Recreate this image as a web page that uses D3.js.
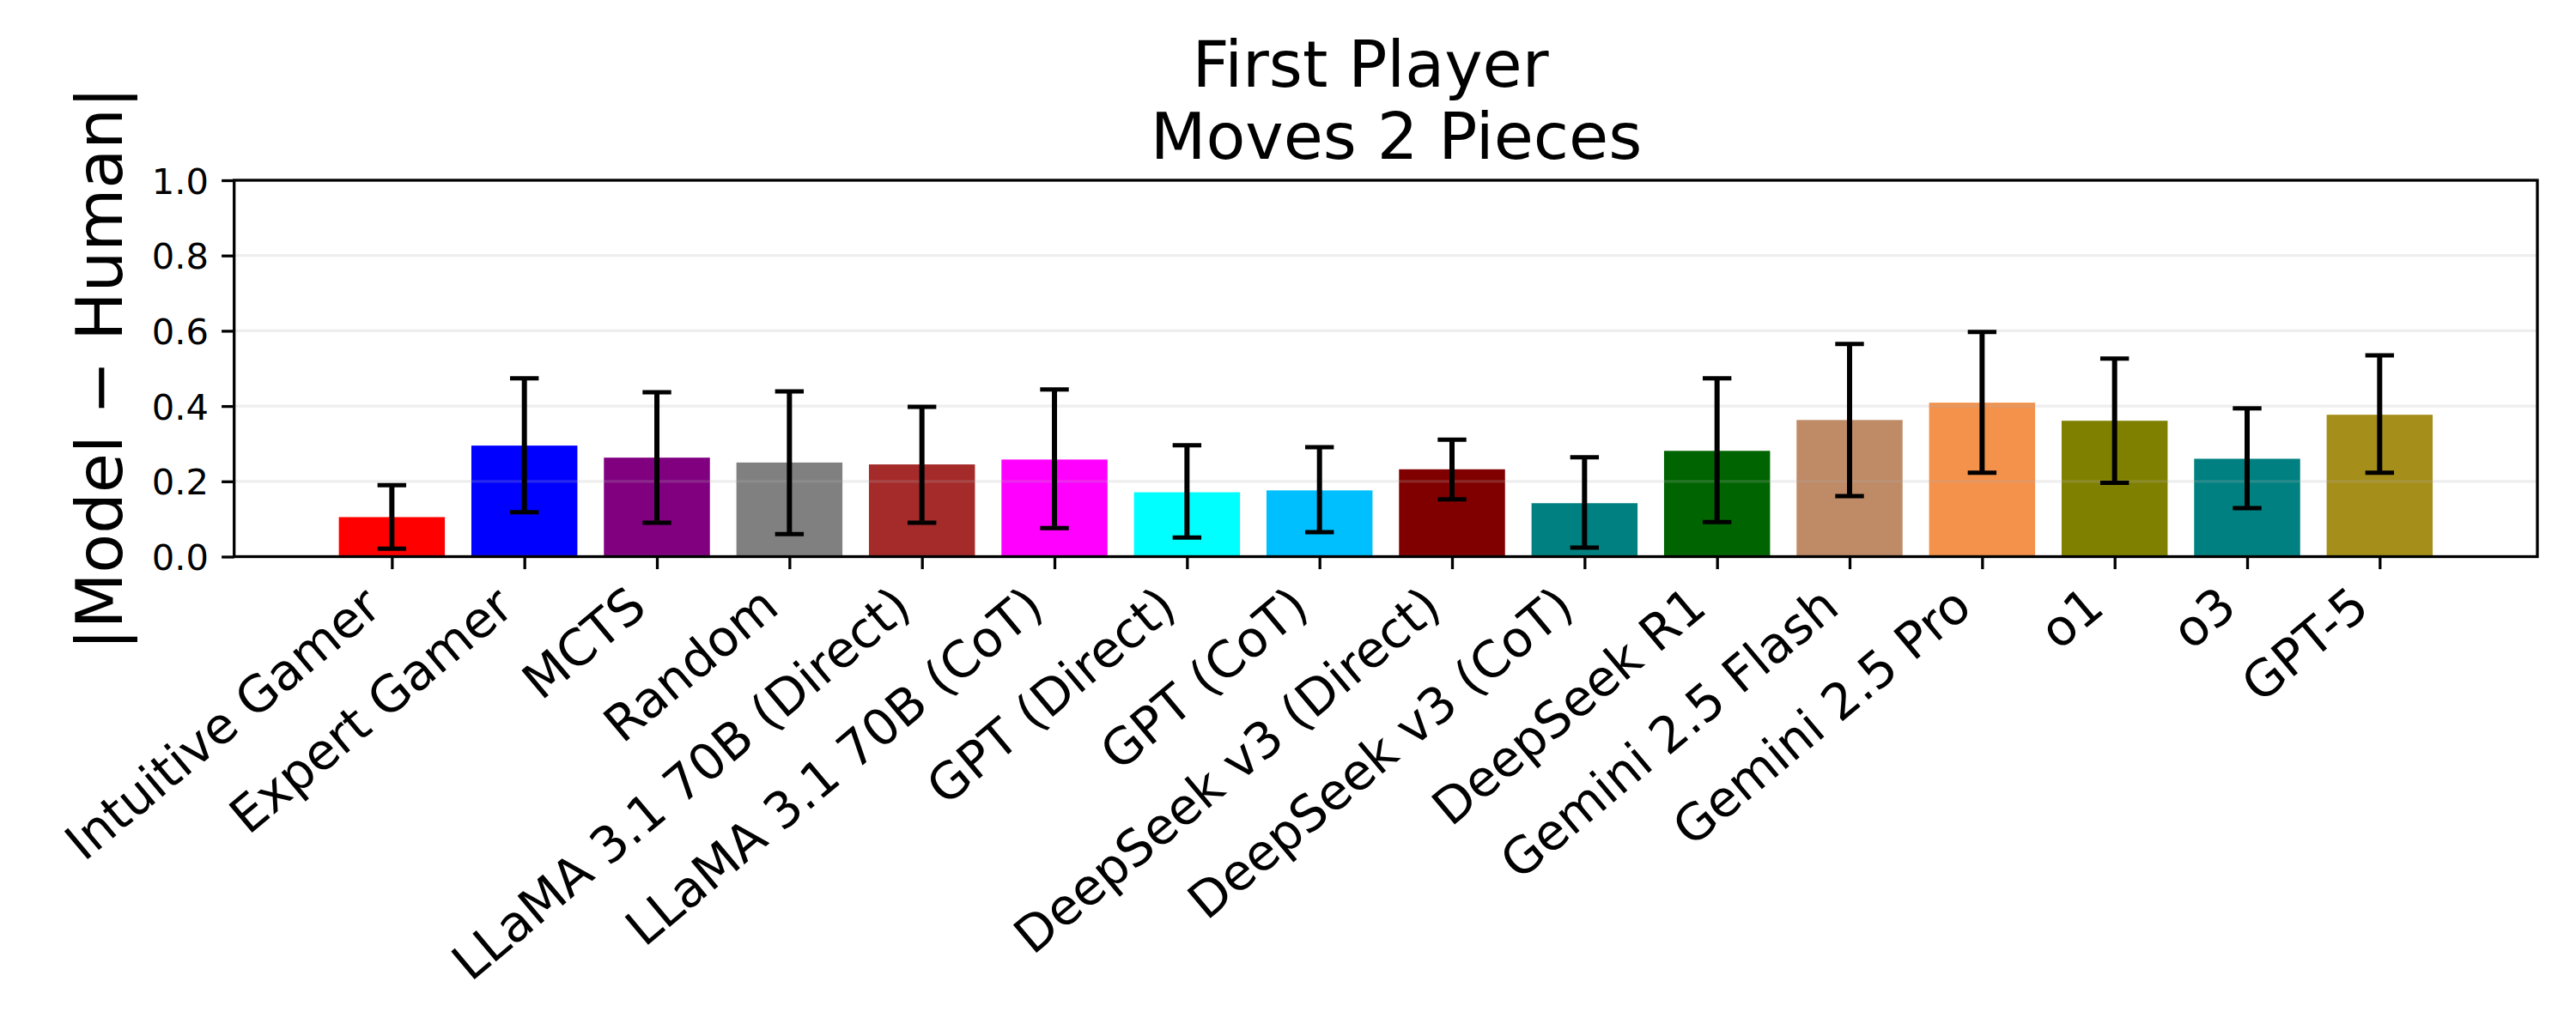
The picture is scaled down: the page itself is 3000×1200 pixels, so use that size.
<!DOCTYPE html>
<html>
<head>
<meta charset="utf-8">
<script src="https://cdn.jsdelivr.net/npm/d3@7"></script>
<style>
  html, body { margin: 0; padding: 0; background: #ffffff; }
  svg { display: block; font-family: "DejaVu Sans", sans-serif; }
</style>
</head>
<body>
<svg id="chart" width="3000" height="1200"></svg>
<script>
// ---------------- data ----------------
const categories = [
  "Intuitive Gamer", "Expert Gamer", "MCTS", "Random",
  "LLaMA 3.1 70B (Direct)", "LLaMA 3.1 70B (CoT)", "GPT (Direct)", "GPT (CoT)",
  "DeepSeek v3 (Direct)", "DeepSeek v3 (CoT)", "DeepSeek R1", "Gemini 2.5 Flash",
  "Gemini 2.5 Pro", "o1", "o3", "GPT-5"
];
const values = [0.105, 0.295, 0.263, 0.250, 0.245, 0.258, 0.171, 0.176,
                0.232, 0.142, 0.281, 0.363, 0.409, 0.361, 0.260, 0.377];
const errLower = [0.021, 0.118, 0.090, 0.060, 0.090, 0.076, 0.051, 0.065,
                  0.152, 0.024, 0.092, 0.161, 0.223, 0.196, 0.129, 0.223];
const errUpper = [0.190, 0.474, 0.437, 0.439, 0.398, 0.444, 0.296, 0.291,
                  0.311, 0.264, 0.474, 0.565, 0.597, 0.526, 0.394, 0.535];
const colors = ["#ff0000", "#0000ff", "#800080", "#808080",
                "#a52a2a", "#ff00ff", "#00ffff", "#00bfff",
                "#800000", "#008080", "#006400", "#bf8a66",
                "#f4914b", "#808000", "#008080", "#a68e1a"];
const yTicks = [0.0, 0.2, 0.4, 0.6, 0.8, 1.0];
const titleLines = ["First Player", "Moves 2 Pieces"];
const yLabel = "|Model \u2212 Human|";

// ---------------- layout ----------------
const L = 272.7, R = 2955, T = 210, B = 648.5;
const svg = d3.select("#chart");
svg.append("rect").attr("width", 3000).attr("height", 1200).attr("fill", "#ffffff");

const x = d3.scaleLinear().domain([-1.19, categories.length - 1 + 1.19]).range([L, R]);
const y = d3.scaleLinear().domain([0, 1]).range([B, T]);
const barW = x(0.8) - x(0);

// bars
svg.append("g").selectAll("rect").data(values).join("rect")
  .attr("x", (d, i) => x(i) - barW / 2)
  .attr("width", barW)
  .attr("y", d => y(d))
  .attr("height", d => y(0) - y(d))
  .attr("fill", (d, i) => colors[i]);

// grid (drawn above bars, semi-transparent)
svg.append("g").selectAll("line").data(yTicks).join("line")
  .attr("x1", L).attr("x2", R)
  .attr("y1", d => y(d)).attr("y2", d => y(d))
  .attr("stroke", "#b0b0b0").attr("stroke-opacity", 0.22).attr("stroke-width", 3.3);

// error bars
const capHalf = 16.7;
const eg = svg.append("g").attr("stroke", "#000000");
categories.forEach((c, i) => {
  eg.append("line").attr("x1", x(i)).attr("x2", x(i))
    .attr("y1", y(errLower[i])).attr("y2", y(errUpper[i]))
    .attr("stroke-width", 6);
  [errLower[i], errUpper[i]].forEach(v => {
    eg.append("line").attr("x1", x(i) - capHalf).attr("x2", x(i) + capHalf)
      .attr("y1", y(v)).attr("y2", y(v)).attr("stroke-width", 5);
  });
});

// y axis
const yAxis = svg.append("g").attr("transform", `translate(${L},0)`)
  .call(d3.axisLeft(y).tickValues(yTicks).tickFormat(d3.format(".1f"))
        .tickSize(14.6).tickSizeOuter(0).tickPadding(15));
yAxis.select(".domain").remove();
yAxis.selectAll(".tick line").attr("stroke", "#000").attr("stroke-width", 3.3);
yAxis.selectAll(".tick text")
  .attr("font-family", "DejaVu Sans").attr("font-size", 41.7).attr("fill", "#000")
  .attr("dy", null).attr("y", 15);

// x axis
const xAxis = svg.append("g").attr("transform", `translate(0,${B})`)
  .call(d3.axisBottom(x).tickValues(d3.range(categories.length))
        .tickFormat(i => categories[i]).tickSize(14.6).tickSizeOuter(0));
xAxis.select(".domain").remove();
xAxis.selectAll(".tick line").attr("stroke", "#000").attr("stroke-width", 3.3);
xAxis.selectAll(".tick text")
  .attr("font-family", "DejaVu Sans").attr("font-size", 58.3).attr("fill", "#000")
  .attr("y", null).attr("dy", null).attr("x", null)
  .attr("text-anchor", "end")
  .attr("transform", `translate(-10,${712 - B}) rotate(-40)`);

// spines
svg.append("rect").attr("x", L).attr("y", T).attr("width", R - L).attr("height", B - T)
  .attr("fill", "none").attr("stroke", "#000").attr("stroke-width", 3.3);

// title
svg.append("text").attr("x", 1596).attr("y", 101).attr("text-anchor", "middle")
  .attr("font-size", 75).attr("fill", "#000").text(titleLines[0]);
svg.append("text").attr("x", 1626).attr("y", 185).attr("text-anchor", "middle")
  .attr("font-size", 75).attr("fill", "#000").text(titleLines[1]);

// y label
svg.append("text").attr("transform", `translate(142,${(T + B) / 2}) rotate(-90)`)
  .attr("text-anchor", "middle").attr("font-size", 75).attr("fill", "#000")
  .text(yLabel);
</script>
</body>
</html>
